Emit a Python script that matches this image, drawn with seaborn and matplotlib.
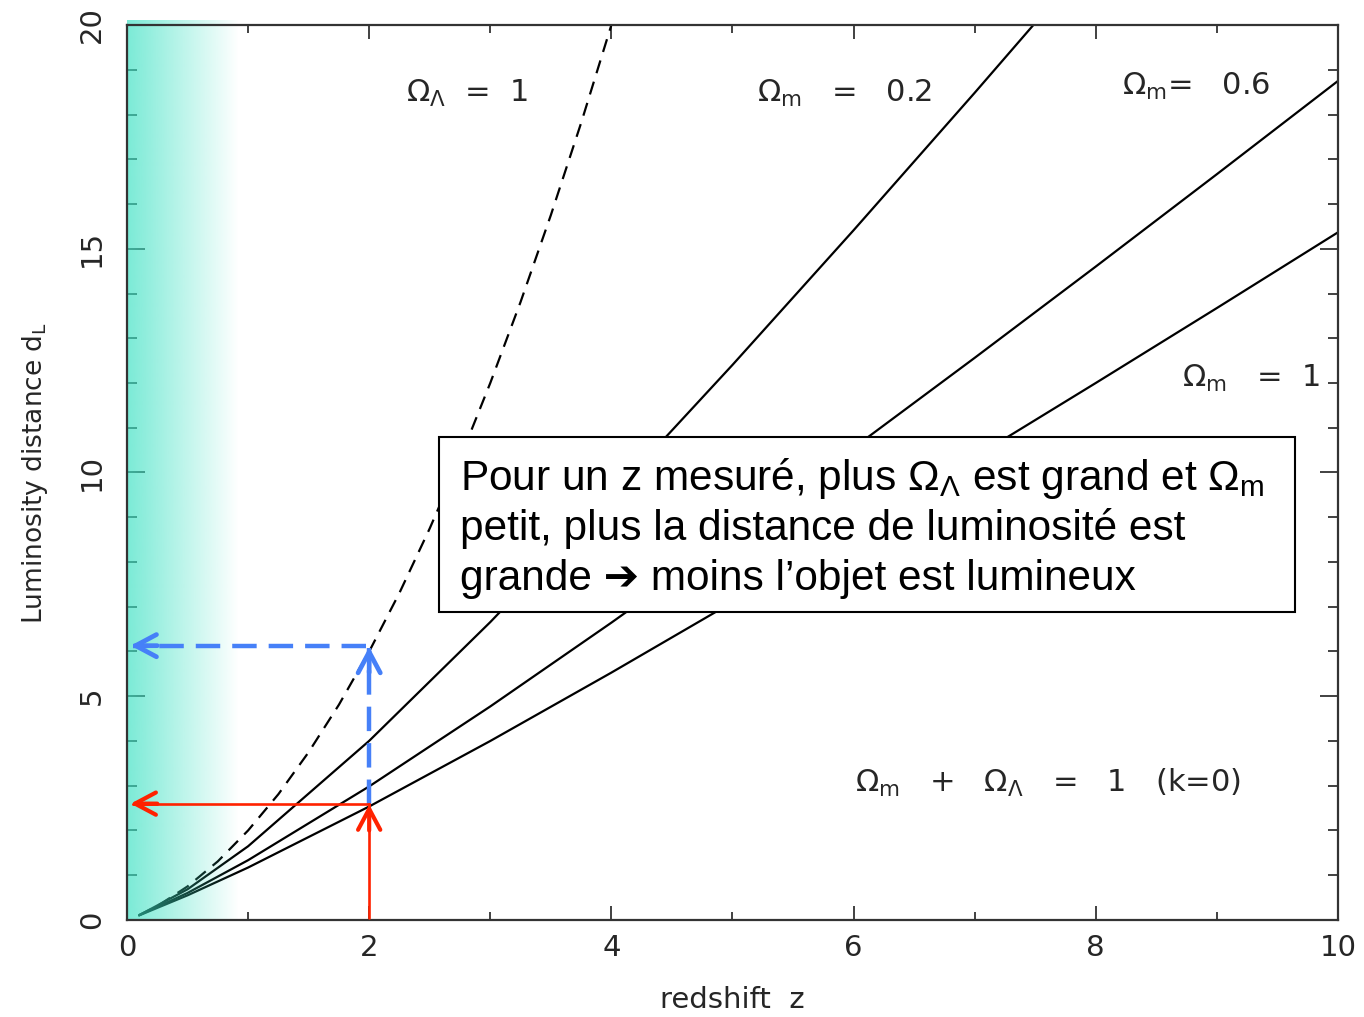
import numpy as np
import pandas as pd
import matplotlib
matplotlib.use("Agg")
import matplotlib.pyplot as plt
from matplotlib.patches import Rectangle
import seaborn as sns

# ---- data ----
z_lambda = [0.1, 0.25, 0.5, 0.75, 1.0, 1.25, 1.5, 1.75, 2.0, 2.25, 2.5, 2.75,
            3.0, 3.25, 3.5, 3.75, 4.0]
dL_lambda = [0.11, 0.31, 0.75, 1.31, 2.0, 2.81, 3.75, 4.81, 6.0, 7.31, 8.75,
             10.31, 12.0, 13.81, 15.75, 17.81, 20.0]

z_m02 = [0.1, 0.5, 1, 2, 3, 4, 5, 6, 7, 8]
dL_m02 = [0.107, 0.686, 1.647, 4.003, 6.657, 9.476, 12.404, 15.413, 18.485, 21.61]

z_grid = [0.1, 0.5, 1, 2, 3, 4, 5, 6, 7, 8, 9, 10]
dL_m06 = [0.104, 0.604, 1.336, 2.985, 4.772, 6.644, 8.575, 10.551, 12.562, 14.602, 16.666, 18.75]
dL_m1 = [0.102, 0.551, 1.172, 2.536, 4.0, 5.528, 7.101, 8.709, 10.343, 12.0, 13.675, 15.367]

z_measured = 2.0
dL_red = 2.6
dL_blue = 6.13

x_ticks = [0, 2, 4, 6, 8, 10]
y_ticks = [0, 5, 10, 15, 20]

# ---- style ----
sns.set_theme(style="ticks")
plt.rcParams["font.family"] = ["DejaVu Sans"]
plt.rcParams["mathtext.fontset"] = "custom"
plt.rcParams["mathtext.rm"] = "Liberation Sans"
plt.rcParams["mathtext.it"] = "Liberation Sans"
plt.rcParams["mathtext.default"] = "rm"

fig = plt.figure(figsize=(13.64, 10.17), dpi=100)
ax = fig.add_axes([0.0931, 0.0954, 0.8878, 0.880])

# curves
sns.lineplot(x=z_lambda, y=dL_lambda, ax=ax, color="black", lw=1.6,
             linestyle=(0, (6, 4)), zorder=2)
sns.lineplot(x=z_m02, y=dL_m02, ax=ax, color="black", lw=1.6, zorder=2)
sns.lineplot(x=z_grid, y=dL_m06, ax=ax, color="black", lw=1.6, zorder=2)
sns.lineplot(x=z_grid, y=dL_m1, ax=ax, color="black", lw=1.6, zorder=2)

ax.set_xlim(0, 10)
ax.set_ylim(0, 20)

# teal gradient band
n = 256
grad = np.zeros((1, n, 4))
grad[..., 0] = 60 / 255
grad[..., 1] = 225 / 255
grad[..., 2] = 195 / 255
grad[..., 3] = np.linspace(0.68, 0.0, n)
ax.imshow(grad, extent=[0, 0.92, 0, 20.1], aspect="auto", zorder=3,
          interpolation="bilinear", clip_on=False)
ax.set_xlim(0, 10)
ax.set_ylim(0, 20)

# axes styling
for sp in ax.spines.values():
    sp.set_color("#333333")
    sp.set_linewidth(1.6)
    sp.set_zorder(4)
ax.set_xticks(x_ticks)
ax.set_yticks(y_ticks)
ax.set_xticks(range(0, 11), minor=True)
ax.set_yticks(range(0, 21), minor=True)
ax.tick_params(which="both", direction="in", top=True, right=True,
               color="#333333", width=1.3)
ax.tick_params(axis="x", which="major", length=10, pad=10, labelsize=21)
ax.tick_params(axis="x", which="minor", length=5.5)
ax.tick_params(axis="y", which="major", length=13, pad=15, labelsize=21,
               labelrotation=90)
ax.tick_params(axis="y", which="minor", length=7)
for lab in ax.get_yticklabels():
    lab.set_va("center")

ax.set_xlabel("redshift  z", fontsize=21)
ax.xaxis.set_label_coords(0.5, -0.0894)
ax.xaxis.label.set_va("center")
ax.set_ylabel(r"Luminosity distance d$_\mathrm{L}$", fontsize=19,
              math_fontfamily="dejavusans")
ax.yaxis.set_label_coords(-0.076, 0.5)
ax.yaxis.label.set_va("center")

# curve labels
lab_kw = dict(fontsize=22, ha="left", va="baseline", math_fontfamily="dejavusans",
              zorder=6)
ax.text(2.30, 18.28, r"$\Omega_\Lambda$  =  1", **lab_kw)
ax.text(5.20, 18.28, r"$\Omega_\mathrm{m}$   =   0.2", **lab_kw)
ax.text(8.22, 18.44, r"$\Omega_\mathrm{m}$=   0.6", **lab_kw)
ax.text(8.71, 11.91, r"$\Omega_\mathrm{m}$   =  1", **lab_kw)
ax.text(6.01, 2.86, r"$\Omega_\mathrm{m}$   +   $\Omega_\Lambda$   =   1   (k=0)", **lab_kw)

# annotation box
ax.add_patch(Rectangle((2.576, 6.88), 7.069, 3.91, facecolor="white",
                       edgecolor="black", lw=1.5, zorder=5))
box_kw = dict(fontsize=30.5, ha="left", va="baseline", zorder=6, color="black",
              family=["Liberation Sans", "DejaVu Sans"])
ax.text(2.75, 9.61, r"Pour un z mesuré, plus $\Omega_{\Lambda}$ est grand et $\Omega_{\mathrm{m}}$",
        math_fontfamily="custom", **box_kw)
ax.text(2.75, 8.49, "petit, plus la distance de luminosité est", **box_kw)
ax.text(2.75, 7.37, "grande \u2794 moins l\u2019objet est lumineux", **box_kw)

# arrows
blue = "#4680f8"
red = "#ff2200"
ax.plot([z_measured, z_measured], [dL_red, dL_blue - 0.05], color=blue, lw=3.2,
        linestyle=(0, (5.5, 2.7)), zorder=7, solid_capstyle="butt")
ax.plot([z_measured - 0.03, 0.05], [dL_blue, dL_blue], color=blue, lw=3.2,
        linestyle=(0, (5.5, 2.7)), zorder=7)
ax.plot([z_measured, z_measured], [0.05, dL_red], color=red, lw=1.9, zorder=7)
ax.plot([z_measured, 0.05], [dL_red, dL_red], color=red, lw=1.9, zorder=7)

def head(xy, xytext, color, lw):
    ax.annotate("", xy=xy, xytext=xytext,
                arrowprops=dict(arrowstyle="->,head_length=1.5,head_width=0.8",
                                color=color, lw=lw, shrinkA=0, shrinkB=0,
                                mutation_scale=10, capstyle="round",
                                joinstyle="round"),
                zorder=8)

head((z_measured, dL_blue - 0.03), (z_measured, dL_blue - 0.6), blue, 3.4)
head((0.03, dL_blue), (0.25, dL_blue), blue, 3.4)
head((z_measured, dL_red - 0.02), (z_measured, dL_red - 0.6), red, 3.0)
head((0.03, dL_red), (0.25, dL_red), red, 3.0)
# redraw red shafts thin over the thick head stems
ax.plot([z_measured, z_measured], [dL_red - 0.6, dL_red], color=red, lw=1.9, zorder=9)
ax.plot([0.25, 0.05], [dL_red, dL_red], color=red, lw=1.9, zorder=9)

fig.savefig("out.png", dpi=100)
